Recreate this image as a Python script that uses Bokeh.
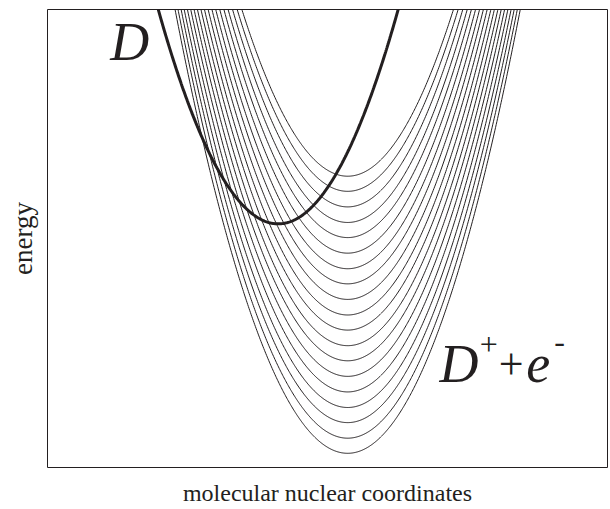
import numpy as np
from bokeh.plotting import figure
from bokeh.models import Range1d, FixedTicker, Label
from bokeh.embed import file_html
from bokeh.resources import INLINE

# --- data ---
# ionic (D+ + e-) curves: common centre, a ladder of minima energies
ion_center = 5.36
ion_minima = [0.31, 0.64, 0.98, 1.31, 1.65, 1.99, 2.33, 2.66, 3.00, 3.33,
              3.67, 4.01, 4.34, 4.68, 5.02, 5.35, 5.69, 6.03, 6.36]
# neutral D curve
d_center = 4.12
d_minimum = 5.32
curvature = 1.02  # energy per (coordinate)^2, same for all curves

x_lo, x_hi = 0.0, 10.0
y_lo, y_hi = 0.0, 10.0

INK = "#231f20"
SERIF = "Liberation Serif"

p = figure(width=608, height=508, output_backend="svg", toolbar_location=None,
           x_range=Range1d(x_lo, x_hi), y_range=Range1d(y_lo, y_hi),
           min_border_left=47, min_border_right=1, min_border_top=9,
           min_border_bottom=40)
p.grid.visible = False
p.outline_line_color = INK
p.outline_line_width = 1
p.background_fill_color = "white"
p.border_fill_color = "white"

xs = np.linspace(x_lo, x_hi, 801)
for m in ion_minima:
    ys = m + curvature * (xs - ion_center) ** 2
    p.line(xs, ys, line_color=INK, line_width=1)

yd = d_minimum + curvature * (xs - d_center) ** 2
p.line(xs, yd, line_color=INK, line_width=3)

for ax in (p.xaxis[0], p.yaxis[0]):
    ax.ticker = FixedTicker(ticks=[])
    ax.major_tick_in = 0
    ax.major_tick_out = 0
    ax.minor_tick_in = 0
    ax.minor_tick_out = 0
    ax.major_label_standoff = 0
    ax.axis_line_color = None
    ax.axis_label_text_font = SERIF
    ax.axis_label_text_font_style = "normal"
    ax.axis_label_text_color = INK
p.xaxis.axis_label = "molecular nuclear coordinates"
p.xaxis.axis_label_text_font_size = "24px"
p.xaxis.axis_label_standoff = 12
p.yaxis.axis_label = "energy"
p.yaxis.axis_label_text_font_size = "27px"
p.yaxis.axis_label_standoff = 10

def lab(x, y, t, size, style="italic", align="left"):
    p.add_layout(Label(x=x, y=y, text=t, text_font=SERIF, text_font_style=style,
                       text_font_size=size, text_color=INK, text_align=align,
                       text_baseline="alphabetic"))

lab(1.12, 9.28, "D", "54px")
lab(7.00, 2.25, "D", "54px")
lab(7.72, 2.68, "+", "32px", "normal")
lab(8.06, 2.25, "+", "44px", "normal")
lab(8.55, 2.25, "e", "54px")
lab(9.05, 2.75, "-", "32px", "normal")

open("out.html", "w").write(file_html(p, INLINE))
